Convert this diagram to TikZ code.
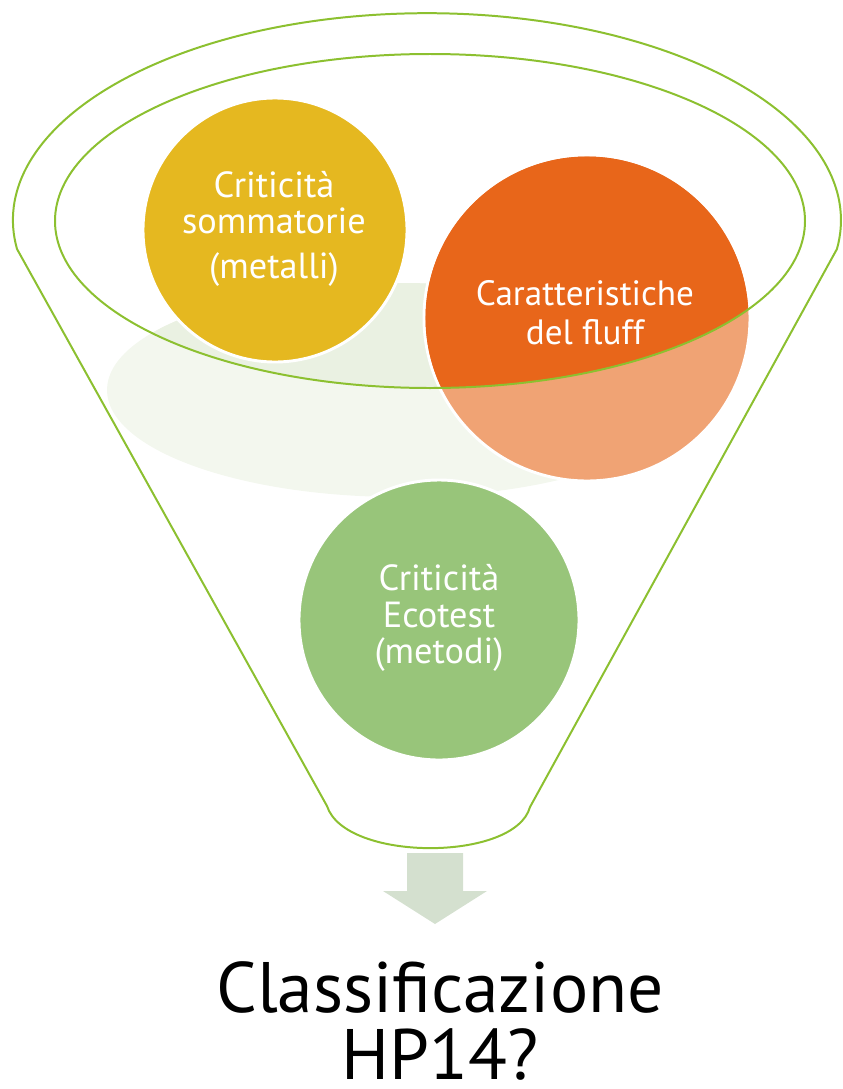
\documentclass[tikz,border=0pt]{standalone}
\usepackage{fontspec}
\setmainfont{PT Sans}
\definecolor{rimgreen}{RGB}{140,192,48}
\definecolor{ballyellow}{RGB}{229,184,32}
\definecolor{balldark}{RGB}{232,102,26}
\definecolor{balllight}{RGB}{240,163,116}
\definecolor{ballgreen}{RGB}{152,197,122}
\definecolor{haze}{RGB}{243,247,238}
\definecolor{hazedark}{RGB}{234,241,226}
\definecolor{arrowgreen}{RGB}{212,224,207}
\begin{document}
\begin{tikzpicture}[x=0.03cm,y=-0.03cm,
  rim/.style={draw=rimgreen,line width=1.7pt},
  ball/.style={circle,draw=white,line width=2.5pt,inner sep=0pt},
  balltext/.style={text=white,align=center,font=\fontsize{31}{31}\selectfont}]
\def\rY{132} % raggi dei cerchi (in px)
\def\rO{163}
\def\rG{140}
\useasboundingbox (0,0) rectangle (843,1089);

% ombra dietro i cerchi
\fill[haze] (400,390) ellipse [x radius=293,y radius=107];
\begin{scope}
\clip (430,221) ellipse [x radius=375,y radius=167];
\fill[hazedark] (400,390) ellipse [x radius=293,y radius=107];
\end{scope}

\node[ball,fill=ballyellow,minimum size={2*\rY*0.03cm}] (metalli) at (275,230) {};
\node[ball,fill=balllight,minimum size={2*\rO*0.03cm}] (fluff) at (587,318) {};
\begin{scope}
\clip (430,221) ellipse [x radius=375,y radius=167];
\fill[balldark] (fluff.center) circle [radius=\rO-1.5];
\end{scope}
\node[ball,fill=ballgreen,minimum size={2*\rG*0.03cm}] (ecotest) at (439,620) {};

% imbuto
\draw[rim] (327,806) -- (17,249) arc[start angle=172,end angle=368,x radius=414,y radius=207]
  -- (530,807) .. controls (515,862) and (345,862) .. (327,806);
\draw[rim] (430,221) ellipse [x radius=375,y radius=167];

\fill[arrowgreen] (407,853) -- (463,853) -- (463,891) -- (487,891) -- (435,924) -- (383,891) -- (407,891) -- cycle;

\node[balltext] (metalliText) at (274,229) {Criticità\\sommatorie\\[7pt](metalli)};
\node[balltext,font=\fontsize{30}{33}\selectfont] (fluffText) at (585,313) {Caratteristiche\\del fluff};
\node[balltext] (ecotestText) at (439,618) {Criticità\\Ecotest\\(metodi)};

\node[align=center,inner sep=0pt,font=\fontsize{61}{57}\selectfont] (hp) at (440,1021) {Classificazione\\HP14?};
\end{tikzpicture}
\end{document}
